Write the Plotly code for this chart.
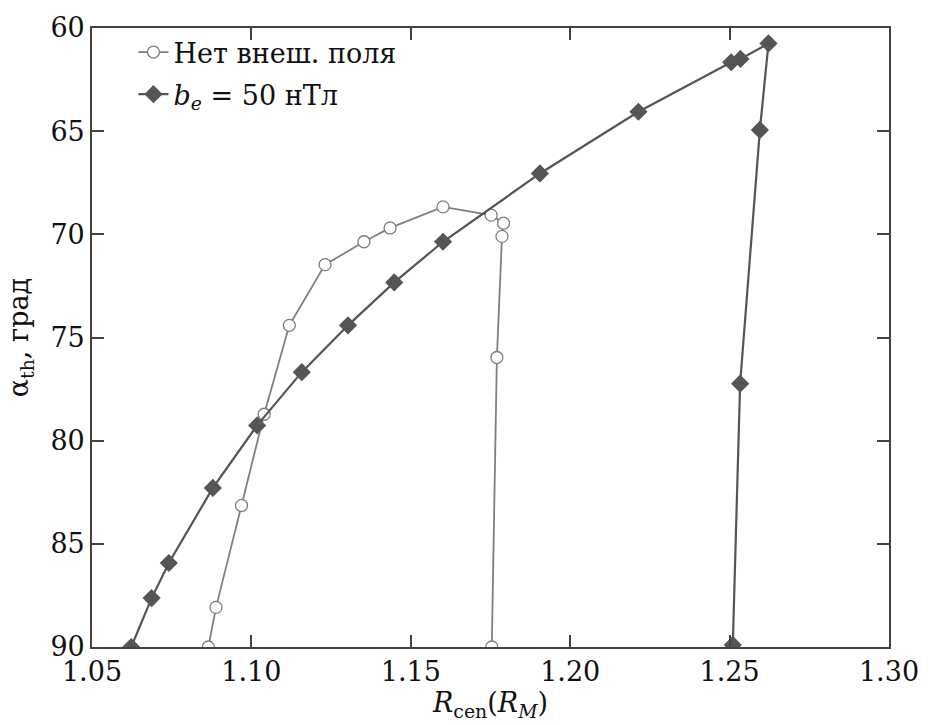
import plotly.graph_objects as go

# Case without an external field
r_nofield = [1.0865, 1.0889, 1.0969, 1.1040, 1.1119, 1.1231, 1.1353, 1.1435,
             1.1601, 1.1752, 1.1791, 1.1786, 1.1770, 1.1754]
a_nofield = [90.0, 88.08, 83.14, 78.72, 74.41, 71.47, 70.36, 69.69,
             68.67, 69.07, 69.46, 70.10, 75.97, 90.0]

# Case with external field b_e = 50 nT
r_field = [1.0623, 1.0687, 1.0741, 1.0879, 1.1018, 1.1158, 1.1303, 1.1448,
           1.1601, 1.1905, 1.2214, 1.2505, 1.2534, 1.2622, 1.2595, 1.2533, 1.2510]
a_field = [90.0, 87.63, 85.93, 82.29, 79.26, 76.68, 74.41, 72.33,
           70.36, 67.05, 64.06, 61.66, 61.50, 60.75, 64.94, 77.24, 89.9]

x_ticks = [1.05, 1.10, 1.15, 1.20, 1.25, 1.30]
y_ticks = [60, 65, 70, 75, 80, 85, 90]

names = ["Нет внеш. поля", "<i>b<sub>e</sub></i> = 50 нТл"]

FONT = "DejaVu Serif"
AXIS_COLOR = "#4a4238"

fig = go.Figure()
fig.add_trace(go.Scatter(
    x=r_nofield, y=a_nofield, mode="lines+markers", name=names[0],
    legendgroup="a",
    line=dict(color="#7f7f7f", width=1.8),
    marker=dict(symbol="circle", size=12, color="white",
                line=dict(color="#7f7f7f", width=1.3)),
))
fig.add_trace(go.Scatter(
    x=r_field, y=a_field, mode="lines+markers", name=names[1],
    legendgroup="b",
    line=dict(color="#555555", width=2.2),
    marker=dict(symbol="diamond", size=14, color="#555555",
                line=dict(width=0)),
))

for upd in (fig.update_xaxes, fig.update_yaxes):
    upd(showline=True, mirror="ticks", linecolor=AXIS_COLOR, linewidth=1.6,
        ticks="inside", ticklen=12, tickwidth=1.5, tickcolor=AXIS_COLOR,
        showgrid=False, zeroline=False,
        tickfont_family=FONT, tickfont_size=27, tickfont_color="#111111")

fig.update_xaxes(
    range=[1.05, 1.30], tickvals=x_ticks,
    ticktext=[f"{v:.2f}" for v in x_ticks],
    title=dict(text="<i>R</i><sub>cen</sub>(<i>R<sub>M</sub></i>)",
               font=dict(family=FONT, size=27, color="#111111"), standoff=0),
)
fig.update_yaxes(
    range=[90, 60], tickvals=y_ticks,
    ticktext=[str(v) for v in y_ticks],
    title=dict(text="α<sub>th</sub>, град",
               font=dict(family=FONT, size=27, color="#111111"), standoff=14),
)

fig.update_layout(
    width=931, height=725,
    margin=dict(l=92, r=35, t=19, b=78),
    paper_bgcolor="white", plot_bgcolor="white",
    font=dict(family=FONT, color="#111111"),
    showlegend=True,
    legend=dict(
        x=0.052, y=1.0, xanchor="left", yanchor="top",
        bgcolor="rgba(0,0,0,0)", borderwidth=0,
        font=dict(family=FONT, size=27, color="#111111"),
        traceorder="grouped", tracegroupgap=4, itemwidth=30,
    ),
)

fig.write_html("out.html")
